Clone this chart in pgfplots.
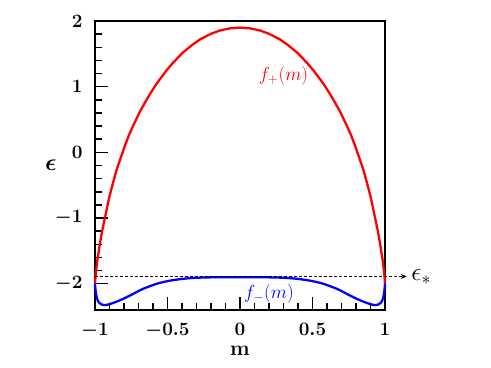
\RequirePackage{fix-cm}
\documentclass[border=0pt]{standalone}
\usepackage{pgfplots}
\pgfplotsset{compat=1.18}
\usetikzlibrary{arrows.meta}
\begin{document}
\begin{tikzpicture}
\useasboundingbox (-95bp,-58bp) rectangle (396bp,310bp);
\begin{axis}[
 at={(0,0)}, anchor=south west,
 scale only axis, width=290bp, height=289bp,
 xmin=-1, xmax=1, ymin=-2.4, ymax=2,
 xtick={-1,-0.5,0,0.5,1}, ytick={-2,-1,0,1,2},
 minor x tick num=4, minor y tick num=4,
 tick pos=left, tick align=inside,
 major tick length=13bp, minor tick length=7bp,
 every tick/.style={black, line width=1.5pt},
 axis line style={line width=1.5pt},
 tick label style={font=\fontsize{19}{21}\selectfont\boldmath},
 xticklabel style={/pgf/number format/fixed, yshift=-10bp},
 yticklabel style={xshift=-9bp},
 xlabel={\textbf{m}},
 xlabel style={font=\fontsize{21}{24}\selectfont, at={(axis description cs:0.5,-0.156)}, anchor=base},
 ylabel={$\epsilon$},
 ylabel style={font=\fontsize{24}{26}\selectfont\boldmath, rotate=-90, at={(axis description cs:-0.152,0.5)}, anchor=center},
 clip=false,
]
\addplot[red, line width=2.3pt] coordinates {
(-1,-2.0) (-0.995,-1.85) (-0.985,-1.66) (-0.966,-1.39) (-0.95,-1.19) (-0.931,-0.99)
(-0.9,-0.67) (-0.874,-0.45) (-0.85,-0.26) (-0.805,0.03) (-0.77,0.24) (-0.736,0.41)
(-0.69,0.62) (-0.655,0.76) (-0.62,0.89) (-0.58,1.03) (-0.54,1.15) (-0.506,1.25)
(-0.46,1.37) (-0.391,1.525) (-0.33,1.635) (-0.276,1.72) (-0.2,1.805) (-0.138,1.856)
(-0.07,1.888) (0,1.90)
(0.07,1.888) (0.138,1.856) (0.2,1.805) (0.276,1.72) (0.33,1.635) (0.391,1.525)
(0.46,1.37) (0.506,1.25) (0.54,1.15) (0.58,1.03) (0.62,0.89) (0.655,0.76) (0.69,0.62)
(0.736,0.41) (0.77,0.24) (0.805,0.03) (0.85,-0.26) (0.874,-0.45) (0.9,-0.67)
(0.931,-0.99) (0.95,-1.19) (0.966,-1.39) (0.985,-1.66) (0.995,-1.85) (1,-2.0)
};
\addplot[blue, line width=2.3pt] coordinates {
(-1,-2.0) (-0.997,-2.08) (-0.993,-2.15) (-0.988,-2.21) (-0.982,-2.25) (-0.975,-2.28)
(-0.965,-2.30) (-0.955,-2.315) (-0.943,-2.322) (-0.93,-2.325) (-0.915,-2.32)
(-0.9,-2.31) (-0.88,-2.297) (-0.86,-2.28) (-0.835,-2.258) (-0.805,-2.23) (-0.78,-2.203)
(-0.75,-2.17) (-0.72,-2.135) (-0.69,-2.10) (-0.66,-2.07) (-0.63,-2.045) (-0.6,-2.02)
(-0.574,-2.0) (-0.545,-1.983) (-0.52,-1.97) (-0.49,-1.956) (-0.46,-1.945) (-0.43,-1.935)
(-0.4,-1.926) (-0.345,-1.915) (-0.3,-1.909) (-0.25,-1.905) (-0.18,-1.902) (-0.12,-1.9) (0,-1.9)
(0.12,-1.9) (0.18,-1.902) (0.25,-1.905) (0.3,-1.909) (0.345,-1.915) (0.4,-1.926)
(0.43,-1.935) (0.46,-1.945) (0.49,-1.956) (0.52,-1.97) (0.545,-1.983) (0.574,-2.0)
(0.6,-2.02) (0.63,-2.045) (0.66,-2.07) (0.69,-2.10) (0.72,-2.135) (0.75,-2.17)
(0.78,-2.203) (0.805,-2.23) (0.835,-2.258) (0.86,-2.28) (0.88,-2.297) (0.9,-2.31)
(0.915,-2.32) (0.93,-2.325) (0.943,-2.322) (0.955,-2.315) (0.965,-2.30) (0.975,-2.28)
(0.982,-2.25) (0.988,-2.21) (0.993,-2.15) (0.997,-2.08) (1,-2.0)
};
\addplot[black, densely dashed, line width=0.9pt, -{Stealth[length=6bp,width=5bp]}] coordinates {(-1,-1.89) (1.15,-1.89)};
\node[red, font=\fontsize{19}{21}\selectfont] at (axis cs:0.30,1.17) {$f_+(m)$};
\node[blue, font=\fontsize{19}{21}\selectfont] at (axis cs:0.20,-2.15) {$f_-(m)$};
\node[anchor=west, inner sep=0pt, font=\fontsize{26}{28}\selectfont] at (axis cs:1.18,-1.89) {$\epsilon_*$};
\end{axis}
\end{tikzpicture}
\end{document}
